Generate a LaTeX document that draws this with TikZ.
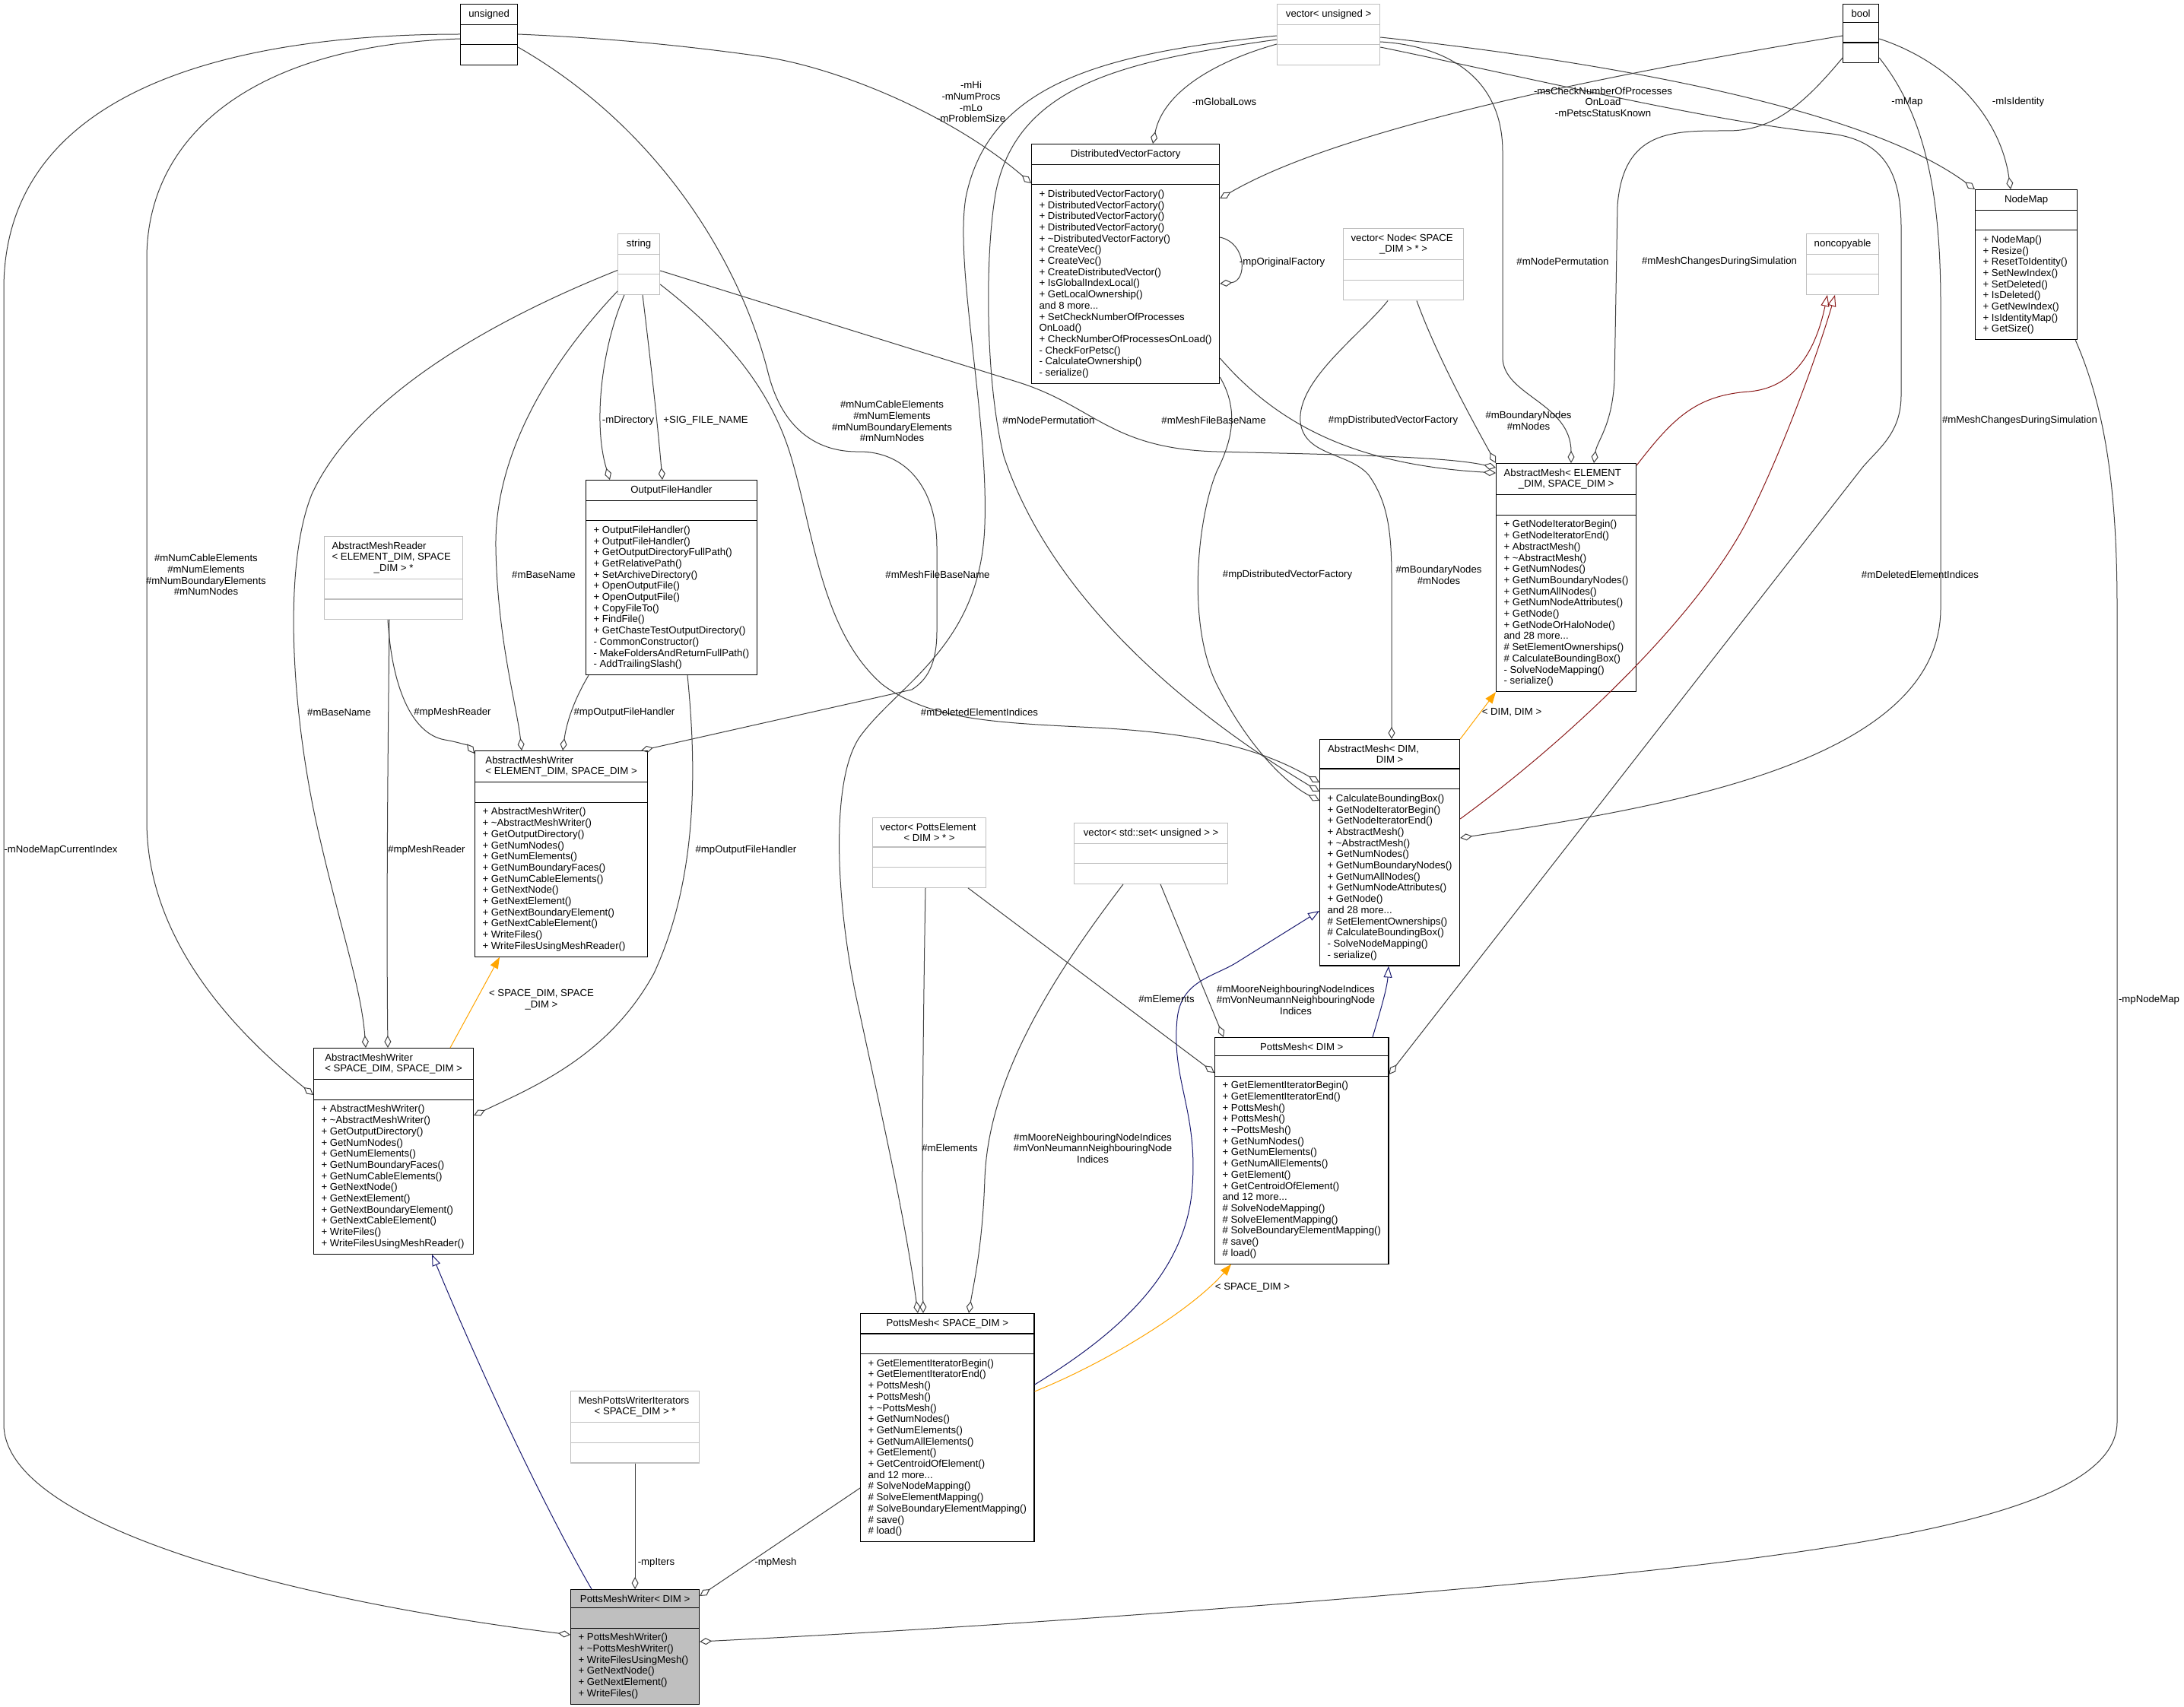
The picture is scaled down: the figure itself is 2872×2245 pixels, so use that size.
\documentclass[tikz,border=0pt]{standalone}
\usepackage{fontspec}
\setmainfont{Liberation Sans}
\usepackage{tikz}
\usetikzlibrary{shapes.multipart, arrows.meta, calc}

\definecolor{edgegray}{HTML}{404040}
\definecolor{extgray}{HTML}{BFBFBF}
\definecolor{inhblue}{HTML}{191970}
\definecolor{tplorange}{HTML}{FFA500}
\definecolor{privred}{HTML}{8B1A1A}
\newcommand{\dxfont}{\fontsize{13.2}{14.7}\selectfont}

\tikzstyle{cls} = [rectangle split, rectangle split parts=3, rectangle split part align={center,left,left}, rectangle split empty part height=9.6pt, rectangle split empty part depth=2.8pt, draw=black, line width=1.2pt, anchor=north west, align=left, inner xsep=10pt, inner ysep=6.5pt, font=\dxfont]
\tikzstyle{extcls} = [cls, draw=extgray]
\tikzstyle{focuscls} = [cls, fill=extgray]
\tikzstyle{assoc} = [edgegray, line width=1pt, -{Diamond[open, length=16pt, width=9pt]}]
\tikzstyle{inh} = [inhblue, line width=1pt, -{Triangle[open, length=15pt, width=11pt]}]
\tikzstyle{tmpl} = [tplorange, line width=1pt, -{Triangle[length=15pt, width=11pt]}]
\tikzstyle{priv} = [privred, line width=1pt, -{Triangle[open, length=15pt, width=11pt]}]
\tikzstyle{lbl} = [font=\dxfont, align=center, inner sep=0pt]

\begin{document}
\begin{tikzpicture}[x=1pt, y=-1pt]
  \useasboundingbox (0,0) rectangle (2872,2245);
  \fill[white] (0,0) rectangle (2872,2245);

  % classes
  \node[cls, minimum width=75pt] (unsgn) at (605,5) {unsigned\nodepart{two}\nodepart{three}};
  \node[extcls, minimum width=135pt] (vecuns) at (1679,5) {vector< unsigned >\nodepart{two}\nodepart{three}};
  \node[cls, minimum width=47pt] (boolt) at (2423,5) {bool\nodepart{two}\nodepart{three}};
  \node[extcls, minimum width=55pt] (strg) at (812,307) {string\nodepart{two}\nodepart{three}};
  \node[extcls, minimum width=158pt] (vecnode) at (1766,300) {vector< Node< SPACE\\\makebox[138pt]{\_DIM > * >}\nodepart{two}\nodepart{three}};
  \node[extcls, minimum width=95pt] (noncp) at (2375,307) {noncopyable\nodepart{two}\nodepart{three}};
  \node[cls, minimum width=247pt] (dvf) at (1356,189) {DistributedVectorFactory\nodepart{two}\nodepart{three}+ DistributedVectorFactory()\\+ DistributedVectorFactory()\\+ DistributedVectorFactory()\\+ DistributedVectorFactory()\\+ \textasciitilde DistributedVectorFactory()\\+ CreateVec()\\+ CreateVec()\\+ CreateDistributedVector()\\+ IsGlobalIndexLocal()\\+ GetLocalOwnership()\\and 8 more...\\+ SetCheckNumberOfProcesses\\OnLoad()\\+ CheckNumberOfProcessesOnLoad()\\- CheckForPetsc()\\- CalculateOwnership()\\- serialize()};
  \node[cls, minimum width=134pt] (nodemap) at (2597,249) {NodeMap\nodepart{two}\nodepart{three}+ NodeMap()\\+ Resize()\\+ ResetToIdentity()\\+ SetNewIndex()\\+ SetDeleted()\\+ IsDeleted()\\+ GetNewIndex()\\+ IsIdentityMap()\\+ GetSize()};
  \node[cls, minimum width=223pt] (ofh) at (770,631) {OutputFileHandler\nodepart{two}\nodepart{three}+ OutputFileHandler()\\+ OutputFileHandler()\\+ GetOutputDirectoryFullPath()\\+ GetRelativePath()\\+ SetArchiveDirectory()\\+ OpenOutputFile()\\+ OpenOutputFile()\\+ CopyFileTo()\\+ FindFile()\\+ GetChasteTestOutputDirectory()\\- CommonConstructor()\\- MakeFoldersAndReturnFullPath()\\- AddTrailingSlash()};
  \node[extcls, minimum width=182pt] (amreader) at (426,705) {AbstractMeshReader\\< ELEMENT\_DIM, SPACE\\\makebox[162pt]{\_DIM > *}\nodepart{two}\nodepart{three}};
  \node[cls, minimum width=227pt] (amwriter) at (624,987) {AbstractMeshWriter\\< ELEMENT\_DIM, SPACE\_DIM >\nodepart{two}\nodepart{three}+ AbstractMeshWriter()\\+ \textasciitilde AbstractMeshWriter()\\+ GetOutputDirectory()\\+ GetNumNodes()\\+ GetNumElements()\\+ GetNumBoundaryFaces()\\+ GetNumCableElements()\\+ GetNextNode()\\+ GetNextElement()\\+ GetNextBoundaryElement()\\+ GetNextCableElement()\\+ WriteFiles()\\+ WriteFilesUsingMeshReader()};
  \node[cls, minimum width=184pt] (amesh) at (1967,609) {AbstractMesh< ELEMENT\\\makebox[164pt]{\_DIM, SPACE\_DIM >}\nodepart{two}\nodepart{three}+ GetNodeIteratorBegin()\\+ GetNodeIteratorEnd()\\+ AbstractMesh()\\+ \textasciitilde AbstractMesh()\\+ GetNumNodes()\\+ GetNumBoundaryNodes()\\+ GetNumAllNodes()\\+ GetNumNodeAttributes()\\+ GetNode()\\+ GetNodeOrHaloNode()\\and 28 more...\\\# SetElementOwnerships()\\\# CalculateBoundingBox()\\- SolveNodeMapping()\\- serialize()};
  \node[cls, minimum width=183pt] (amdd) at (1735,972) {AbstractMesh< DIM,\\\makebox[163pt]{DIM >}\nodepart{two}\nodepart{three}+ CalculateBoundingBox()\\+ GetNodeIteratorBegin()\\+ GetNodeIteratorEnd()\\+ AbstractMesh()\\+ \textasciitilde AbstractMesh()\\+ GetNumNodes()\\+ GetNumBoundaryNodes()\\+ GetNumAllNodes()\\+ GetNumNodeAttributes()\\+ GetNode()\\and 28 more...\\\# SetElementOwnerships()\\\# CalculateBoundingBox()\\- SolveNodeMapping()\\- serialize()};
  \node[extcls, minimum width=149pt] (vecpe) at (1147,1075) {vector< PottsElement\\\makebox[129pt]{< DIM > * >}\nodepart{two}\nodepart{three}};
  \node[extcls, minimum width=202pt] (vecset) at (1412,1082) {vector< std::set< unsigned > >\nodepart{two}\nodepart{three}};
  \node[cls, minimum width=227pt] (pmdim) at (1597,1364) {PottsMesh< DIM >\nodepart{two}\nodepart{three}+ GetElementIteratorBegin()\\+ GetElementIteratorEnd()\\+ PottsMesh()\\+ PottsMesh()\\+ \textasciitilde PottsMesh()\\+ GetNumNodes()\\+ GetNumElements()\\+ GetNumAllElements()\\+ GetElement()\\+ GetCentroidOfElement()\\and 12 more...\\\# SolveNodeMapping()\\\# SolveElementMapping()\\\# SolveBoundaryElementMapping()\\\# save()\\\# load()};
  \node[cls, minimum width=226pt] (pmspace) at (1131,1727) {PottsMesh< SPACE\_DIM >\nodepart{two}\nodepart{three}+ GetElementIteratorBegin()\\+ GetElementIteratorEnd()\\+ PottsMesh()\\+ PottsMesh()\\+ \textasciitilde PottsMesh()\\+ GetNumNodes()\\+ GetNumElements()\\+ GetNumAllElements()\\+ GetElement()\\+ GetCentroidOfElement()\\and 12 more...\\\# SolveNodeMapping()\\\# SolveElementMapping()\\\# SolveBoundaryElementMapping()\\\# save()\\\# load()};
  \node[cls, minimum width=210pt] (amwss) at (412,1378) {AbstractMeshWriter\\< SPACE\_DIM, SPACE\_DIM >\nodepart{two}\nodepart{three}+ AbstractMeshWriter()\\+ \textasciitilde AbstractMeshWriter()\\+ GetOutputDirectory()\\+ GetNumNodes()\\+ GetNumElements()\\+ GetNumBoundaryFaces()\\+ GetNumCableElements()\\+ GetNextNode()\\+ GetNextElement()\\+ GetNextBoundaryElement()\\+ GetNextCableElement()\\+ WriteFiles()\\+ WriteFilesUsingMeshReader()};
  \node[extcls, minimum width=169pt] (mpwi) at (750,1829) {MeshPottsWriterIterators\\\makebox[149pt]{< SPACE\_DIM > *}\nodepart{two}\nodepart{three}};
  \node[focuscls, minimum width=169pt] (pmw) at (750,2090) {PottsMeshWriter< DIM >\nodepart{two}\nodepart{three}+ PottsMeshWriter()\\+ \textasciitilde PottsMeshWriter()\\+ WriteFilesUsingMesh()\\+ GetNextNode()\\+ GetNextElement()\\+ WriteFiles()};

  % members (diamond at the owning class)
  \draw[assoc] ($(unsgn.north west)+(0,40)$) .. controls (300,45) and (5,120) .. (5,380) -- (5,1873) .. controls (5,2000) and (350,2100) .. ($(pmw.north west)+(0,60)$);
  \draw[assoc] ($(unsgn.north west)+(0,46)$) .. controls (330,60) and (193,180) .. (193,340) -- (193,1080) .. controls (193,1230) and (300,1350) .. ($(amwss.north west)+(0,62)$);
  \draw[assoc] ($(unsgn.north east)+(0,57)$) .. controls (870,170) and (975,350) .. (1010,490) .. controls (1030,570) and (1080,595) .. (1130,594) .. controls (1190,594) and (1232,640) .. (1232,720) -- (1232,830) .. controls (1232,875) and (1218,895) .. (1199,907) -- ($(amwriter.north east)+(-9,0)$);
  \draw[assoc] ($(unsgn.north east)+(0,40)$) .. controls (800,50) and (900,60) .. (1000,74) .. controls (1100,88) and (1250,150) .. ($(dvf.north west)+(0,52)$);
  \draw[assoc] ($(vecuns.north west)+(0,53)$) .. controls (1600,80) and (1530,120) .. ($(dvf.north west)+(160,0)$);
  \draw[assoc] ($(dvf.north east)+(0,123)$) .. controls (1640,320) and (1640,370) .. ($(dvf.north east)+(0,184)$);
  \draw[assoc] ($(boolt.north west)+(0,42)$) .. controls (2100,100) and (1760,170) .. ($(dvf.north east)+(0,72)$);
  \draw[assoc] ($(vecuns.north east)+(0,44)$) .. controls (2100,80) and (2450,140) .. (nodemap.north west);
  \draw[assoc] ($(boolt.north east)+(0,46)$) .. controls (2560,80) and (2630,150) .. ($(nodemap.north west)+(47,0)$);
  \draw[assoc] ($(vecuns.north east)+(0,50)$) .. controls (1900,60) and (1976,100) .. (1976,200) -- (1976,470) .. controls (1976,520) and (2066,530) .. ($(amesh.north west)+(99,0)$);
  \draw[assoc] ($(boolt.north west)+(0,71)$) .. controls (2370,140) and (2330,172) .. (2272,172) .. controls (2200,172) and (2135,170) .. (2127,270) -- (2123,500) .. controls (2120,560) and (2100,580) .. ($(amesh.north west)+(129,0)$);
  \draw[assoc] ($(vecuns.north east)+(0,57)$) .. controls (2000,100) and (2250,160) .. (2400,175) .. controls (2480,182) and (2500,230) .. (2500,300) -- (2500,520) .. controls (2500,570) and (2470,590) .. (2449,615) -- ($(pmdim.north east)+(0,49)$);
  \draw[assoc] ($(boolt.north east)+(0,71)$) .. controls (2530,150) and (2552,250) .. (2552,400) -- (2552,800) .. controls (2552,1000) and (2200,1060) .. ($(amdd.north east)+(0,130)$);
  \draw[assoc] ($(vecnode.south west)+(97,0)$) .. controls (1890,470) and (1940,560) .. (amesh.north west);
  \draw[assoc] ($(vecnode.south west)+(59,0)$) .. controls (1790,440) and (1705,500) .. (1710,555) .. controls (1715,600) and (1775,595) .. (1800,625) .. controls (1825,660) and (1830,700) .. (1830,760) -- ($(amdd.north west)+(95,0)$);
  \draw[assoc] ($(dvf.north east)+(0,282)$) .. controls (1690,570) and (1800,612) .. ($(amesh.north west)+(0,13)$);
  \draw[assoc] ($(dvf.north east)+(0,307)$) .. controls (1630,540) and (1620,580) .. (1600,620) .. controls (1575,680) and (1560,820) .. (1600,900) .. controls (1640,980) and (1690,1030) .. ($(amdd.north west)+(0,81)$);
  \draw[assoc] ($(strg.north east)+(0,49)$) -- (1340,503) .. controls (1440,535) and (1460,590) .. (1600,594) .. controls (1760,598) and (1900,600) .. ($(amesh.north west)+(0,6)$);
  \draw[assoc] ($(strg.north east)+(0,67)$) .. controls (940,430) and (1010,500) .. (1040,600) .. controls (1070,700) and (1080,830) .. (1160,900) .. controls (1220,945) and (1300,950) .. (1420,956) .. controls (1560,962) and (1650,980) .. ($(amdd.north west)+(0,57)$);
  \draw[assoc] ($(vecuns.north west)+(0,47)$) .. controls (1480,80) and (1340,110) .. (1310,250) .. controls (1295,330) and (1295,500) .. (1320,600) .. controls (1380,780) and (1550,930) .. ($(amdd.north west)+(0,69)$);
  \draw[assoc] ($(vecuns.north west)+(0,42)$) .. controls (1450,70) and (1300,110) .. (1270,260) .. controls (1255,350) and (1300,550) .. (1295,690) .. controls (1290,850) and (1180,900) .. (1130,970) .. controls (1090,1030) and (1100,1200) .. (1130,1330) .. controls (1160,1470) and (1190,1600) .. ($(pmspace.north west)+(76,0)$);
  \draw[assoc] ($(strg.south west)+(9,0)$) .. controls (790,460) and (780,560) .. ($(ofh.north west)+(32,0)$);
  \draw[assoc] ($(strg.south west)+(33,0)$) .. controls (855,470) and (865,560) .. ($(ofh.north west)+(101,0)$);
  \draw[assoc] ($(strg.south west)+(0,-5)$) .. controls (720,480) and (650,600) .. (652,720) .. controls (654,840) and (680,930) .. ($(amwriter.north west)+(62,0)$);
  \draw[assoc] ($(strg.west)+(0,8)$) .. controls (650,420) and (470,520) .. (410,650) .. controls (370,750) and (385,950) .. (420,1100) .. controls (450,1230) and (475,1300) .. ($(amwss.north west)+(69,0)$);
  \draw[assoc] ($(amreader.south west)+(84,0)$) .. controls (515,900) and (540,965) .. (585,973) .. controls (603,976) and (616,981) .. ($(amwriter.north west)+(0,4)$);
  \draw[assoc] ($(amreader.south west)+(86,0)$) .. controls (510,1000) and (508,1200) .. ($(amwss.north west)+(98,0)$);
  \draw[assoc] ($(ofh.south west)+(4,0)$) .. controls (755,920) and (745,950) .. ($(amwriter.north west)+(116,0)$);
  \draw[assoc] ($(ofh.south west)+(134,0)$) .. controls (915,1000) and (920,1150) .. (860,1280) .. controls (800,1390) and (700,1430) .. ($(amwss.north east)+(0,89)$);
  \draw[assoc] (mpwi.south) -- (pmw.north);
  \draw[assoc] ($(pmspace.north west)+(0,230)$) -- ($(pmw.north east)+(0,9)$);
  \draw[assoc] ($(nodemap.south east)+(-3,0)$) .. controls (2770,540) and (2784,650) .. (2784,800) -- (2784,1870) .. controls (2784,2000) and (2400,2050) .. (1800,2100) .. controls (1400,2133) and (1100,2150) .. ($(pmw.north east)+(0,69)$);
  \draw[assoc] ($(vecpe.south west)+(70,0)$) .. controls (1213,1400) and (1212,1600) .. ($(pmspace.north west)+(83,0)$);
  \draw[assoc] ($(vecset.south west)+(65,0)$) .. controls (1380,1290) and (1300,1420) .. (1295,1550) .. controls (1292,1640) and (1280,1690) .. ($(pmspace.north west)+(143,0)$);
  \draw[assoc] ($(vecpe.south west)+(126,0)$) -- ($(pmdim.north west)+(0,47)$);
  \draw[assoc] ($(vecset.south west)+(114,0)$) -- ($(pmdim.north west)+(12,0)$);

  % inheritance and template instances
  \draw[tmpl] ($(amwss.north west)+(180,0)$) -- ($(amwriter.south west)+(33,0)$);
  \draw[inh] ($(pmw.north west)+(28,0)$) .. controls (740,2025) and (660,1870) .. ($(amwss.south west)+(156,0)$);
  \draw[inh] ($(pmspace.north east)+(0,94)$) .. controls (1460,1760) and (1560,1680) .. (1568,1560) .. controls (1575,1460) and (1540,1420) .. (1548,1340) .. controls (1553,1290) and (1595,1285) .. (1626,1266) -- ($(amdd.north west)+(0,226)$);
  \draw[inh] ($(pmdim.north west)+(208,0)$) .. controls (1815,1330) and (1824,1300) .. ($(amdd.south west)+(91,0)$);
  \draw[tmpl] ($(pmspace.north east)+(0,103)$) .. controls (1460,1790) and (1570,1720) .. ($(pmdim.south west)+(22,0)$);
  \draw[tmpl] (amdd.north east) -- (amesh.south west);
  \draw[priv] ($(amdd.north east)+(0,105)$) .. controls (2080,960) and (2240,800) .. (2300,680) .. controls (2350,580) and (2395,450) .. ($(noncp.south west)+(38,0)$);
  \draw[priv] ($(amesh.north east)+(0,3)$) .. controls (2200,550) and (2230,520) .. (2300,515) .. controls (2360,510) and (2388,460) .. ($(noncp.south west)+(28,0)$);

  % edge labels
  \node[lbl] (lidx) at (80,1118) {-mNodeMapCurrentIndex};
  \node[lbl] (lnumss) at (271,756) {\#mNumCableElements\\\#mNumElements\\\#mNumBoundaryElements\\\#mNumNodes};
  \node[lbl] (lnumes) at (1173,554) {\#mNumCableElements\\\#mNumElements\\\#mNumBoundaryElements\\\#mNumNodes};
  \node[lbl] (lhi) at (1277,134) {-mHi\\-mNumProcs\\-mLo\\-mProblemSize};
  \node[lbl] (llows) at (1610,134) {-mGlobalLows};
  \node[lbl] (lorig) at (1686,345) {-mpOriginalFactory};
  \node[lbl] (lcheck) at (2108,134) {-msCheckNumberOfProcesses\\OnLoad\\-mPetscStatusKnown};
  \node[lbl] (lmap) at (2508,134) {-mMap};
  \node[lbl] (lident) at (2654,134) {-mIsIdentity};
  \node[lbl] (lpermes) at (2055,344) {\#mNodePermutation};
  \node[lbl] (lchges) at (2261,344) {\#mMeshChangesDuringSimulation};
  \node[lbl] (lchgdd) at (2656,553) {\#mMeshChangesDuringSimulation};
  \node[lbl] (ldeldim) at (2525,756) {\#mDeletedElementIndices};
  \node[lbl] (lnodeses) at (2010,553) {\#mBoundaryNodes\\\#mNodes};
  \node[lbl] (lnodesdd) at (1892,756) {\#mBoundaryNodes\\\#mNodes};
  \node[lbl] (lfactes) at (1832,553) {\#mpDistributedVectorFactory};
  \node[lbl] (lfactdd) at (1693,756) {\#mpDistributedVectorFactory};
  \node[lbl] (lfilees) at (1596,553) {\#mMeshFileBaseName};
  \node[lbl] (lfiledd) at (1233,756) {\#mMeshFileBaseName};
  \node[lbl] (lpermdd) at (1379,553) {\#mNodePermutation};
  \node[lbl] (ldelsp) at (1288,937) {\#mDeletedElementIndices};
  \node[lbl] (ldir) at (826,553) {-mDirectory};
  \node[lbl] (lsig) at (928,553) {+SIG\_FILE\_NAME};
  \node[lbl] (lbasees) at (715,756) {\#mBaseName};
  \node[lbl] (lbasess) at (446,937) {\#mBaseName};
  \node[lbl] (lreades) at (595,937) {\#mpMeshReader};
  \node[lbl] (lreadss) at (561,1118) {\#mpMeshReader};
  \node[lbl] (lofhes) at (821,937) {\#mpOutputFileHandler};
  \node[lbl] (lofhss) at (981,1118) {\#mpOutputFileHandler};
  \node[lbl] (ltplwr) at (712,1315) {< SPACE\_DIM, SPACE\\\_DIM >};
  \node[lbl] (ltplam) at (1988,937) {< DIM, DIM >};
  \node[lbl] (ltplpm) at (1647,1693) {< SPACE\_DIM >};
  \node[lbl] (lelsp) at (1249,1510) {\#mElements};
  \node[lbl] (lmoosp) at (1437,1510) {\#mMooreNeighbouringNodeIndices\\\#mVonNeumannNeighbouringNode\\Indices};
  \node[lbl] (leldim) at (1534,1314) {\#mElements};
  \node[lbl] (lmoodim) at (1704,1315) {\#mMooreNeighbouringNodeIndices\\\#mVonNeumannNeighbouringNode\\Indices};
  \node[lbl] (liters) at (863,2055) {-mpIters};
  \node[lbl] (lmesh) at (1020,2055) {-mpMesh};
  \node[lbl] (lnmap) at (2826,1315) {-mpNodeMap};
\end{tikzpicture}
\end{document}
